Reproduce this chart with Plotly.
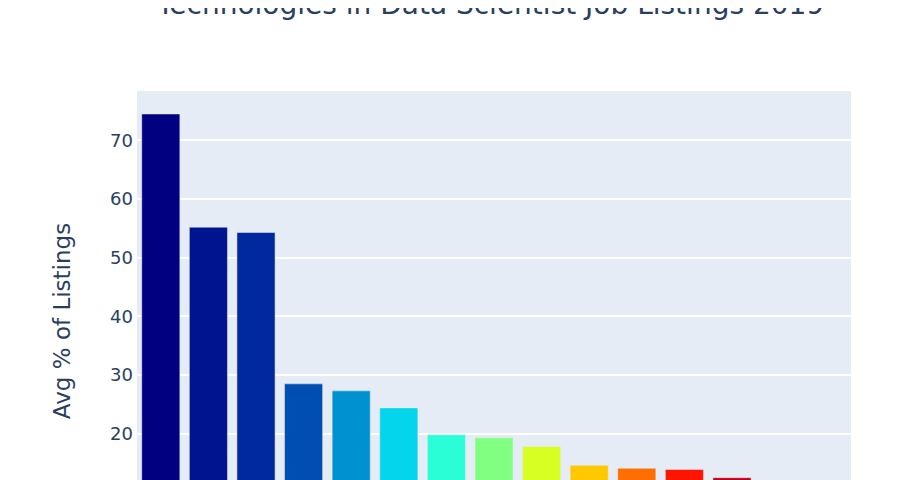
import plotly.graph_objects as go

technologies = ["Python", "R", "SQL", "Hadoop", "Spark", "Java", "Tableau", "AWS",
                "SAS", "Hive", "Scala", "TensorFlow", "C++", "Azure", "Excel"]
avg_pct = [74.5, 55.2, 54.3, 28.5, 27.3, 24.4, 19.8, 19.3, 17.8, 14.6, 14.1, 13.9, 12.5, 11.0, 9.5]
bar_colors = ["#000080", "#001490", "#00289f", "#004eb2", "#0092d0", "#05d5ec", "#2afed6",
              "#80ff80", "#d8ff22", "#ffc800", "#ff6e00", "#ff1400", "#c00018", "#a0000c", "#800000"]
chart_title = "Technologies in Data Scientist Job Listings 2019"

H = 800
plot_h = H - 83 - 257
fig = go.Figure(go.Bar(x=technologies, y=avg_pct, marker=dict(color=bar_colors)))
fig.update_layout(
    template="plotly",
    width=906, height=H,
    font=dict(family="DejaVu Sans", color="#2a3f5f"),
    margin=dict(l=129, r=63, t=83, b=257),
    yaxis=dict(title=dict(text="Avg % of Listings", font=dict(size=23), standoff=33),
               tickfont=dict(size=18), ticklabelstandoff=3, gridwidth=2),
    xaxis=dict(tickfont=dict(size=18), tickangle=-45),
)
fig.add_annotation(text=chart_title, xref="paper", yref="paper", x=0.495, y=1 + 86 / plot_h,
                   xanchor="center", yanchor="middle", showarrow=False,
                   font=dict(size=28, color="#2a3f5f"))
fig.write_html("out.html")
